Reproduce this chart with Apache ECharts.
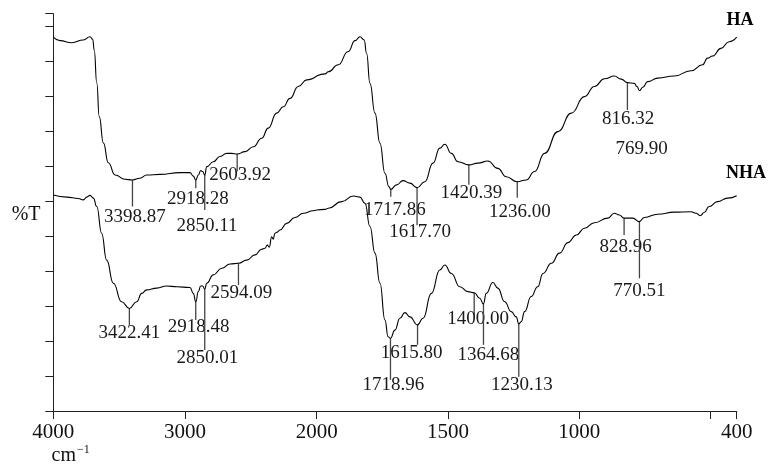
<!DOCTYPE html>
<html>
<head>
<meta charset="utf-8">
<script src="https://cdn.jsdelivr.net/npm/echarts@6/dist/echarts.min.js"></script>
<style>
html,body{margin:0;padding:0;background:#fff;}
#chart{width:769px;height:469px;}
</style>
</head>
<body>
<div id="chart"></div>
<script>
// ---- data (wavenumber cm-1, %T) ----
const haWn = [4000,3949,3860,3772,3721,3701,3689,3670,3651,3620,3582,3531,3456,3399,3342,3291,3190,3038,2962,2937,2918,2899,2881,2866,2850,2835,2785,2734,2683,2645,2604,2544,2481,2418,2368,2304,2254,2203,2140,2076,2000,1968,1956,1918,1880,1854,1835,1819,1810,1797,1778,1759,1740,1725,1718,1696,1671,1645,1618,1588,1557,1531,1512,1487,1462,1420,1386,1348,1310,1278,1236,1202,1170,1132,1081,1030,980,942,904,866,840,816,790,780,770,758,739,701,638,574,530,511,492,460,429,400];
const haT = [106.8,105.8,105.2,106.0,106.9,106.2,103.1,93.7,84.1,76.6,70.9,67.4,66.2,66.0,66.5,67.4,67.6,68.1,68.1,67.1,66.0,67.4,68.7,68.4,67.4,69.8,71.2,72.7,73.6,73.6,73.4,74.1,75.5,77.9,80.8,85.1,86.9,89.3,92.7,94.6,95.7,96.3,96.9,98.9,102.7,105.8,106.9,106.0,102.2,93.6,85.1,76.5,67.9,64.1,63.3,64.6,65.8,65.1,63.8,65.5,70.8,75.1,76.2,73.6,71.2,70.3,70.8,71.4,69.3,66.9,65.5,66.0,68.4,73.6,79.8,85.1,89.8,92.7,94.9,95.7,94.8,93.8,93.6,92.7,91.5,92.5,94.1,95.1,95.7,97.2,98.9,100.8,101.4,103.6,105.5,106.8];
const nhaWn = [4000,3898,3810,3772,3746,3721,3696,3670,3633,3595,3544,3481,3422,3367,3329,3291,3215,3139,3063,2962,2937,2918,2899,2881,2866,2850,2835,2785,2721,2658,2594,2532,2468,2418,2393,2375,2360,2342,2330,2317,2299,2279,2228,2165,2102,2026,2000,1968,1956,1905,1861,1835,1816,1797,1778,1759,1740,1728,1719,1702,1683,1664,1645,1616,1595,1563,1531,1512,1487,1455,1424,1400,1379,1365,1354,1329,1310,1284,1259,1240,1230,1221,1208,1183,1158,1138,1106,1075,1043,1011,980,942,891,866,847,829,796,771,752,701,638,574,555,539,524,505,473,435,400];
const nhaT = [61.7,61.1,60.7,60.3,61.1,61.6,60.8,58.4,50.8,43.1,36.5,31.2,29.3,31.2,33.6,34.6,35.1,35.7,35.5,35.3,33.6,31.2,34.1,35.7,35.7,34.8,36.5,38.9,40.8,42.0,42.2,43.1,44.6,46.2,46.5,47.4,46.8,49.8,49.1,50.8,51.1,51.7,53.6,55.3,56.5,57.2,57.4,57.6,57.9,59.8,61.4,61.1,59.3,52.7,45.1,36.5,26.0,21.2,20.8,23.1,26.5,28.1,26.9,24.6,26.5,33.6,40.3,41.7,39.3,35.5,34.1,33.8,32.2,30.6,33.6,36.7,35.1,31.2,28.4,26.9,24.9,25.5,28.4,32.7,35.5,39.3,42.2,45.1,48.1,50.3,52.2,53.8,55.1,56.5,56.0,55.1,55.1,54.1,55.3,56.2,56.8,56.9,56.5,55.8,56.7,58.4,59.8,60.8,61.5];

// peak labels
const haPeaks = [3398.87, 2918.28, 2850.11, 2603.92, 1717.86, 1617.70, 1420.39, 1236.00, 816.32, 769.90];
const nhaPeaks = [3422.41, 2918.48, 2850.01, 2594.09, 1718.96, 1615.80, 1400.00, 1364.68, 1230.13, 828.96, 770.51];

// x-axis ticks / labels
const leftTicks = [4000, 3000, 2000];
const rightTicks = [1500, 1000, 500, 400];
const rightLabels = [1500, 1000, 400];

// ---- annotation layout: [lineTop %T, lineBottom %T (null = no line), label %T, label dx px] ----
const haPeakLayout = [
  [66.0, 58.4, 55.5, 2.5],
  [66.0, 63.6, 60.5, 2],
  [67.4, 57.4, 52.9, 2.3],
  [73.4, 68.4, 67.4, 3],
  [63.3, 61.2, 57.4, 4],
  [63.8, 53.1, 51.2, 3],
  [70.3, 64.6, 62.4, 2.6],
  [65.5, 60.9, 56.9, 2.7],
  [93.8, 86.0, 83.3, 0.7],
  [null, null, 74.8, 2]
];
const nhaPeakLayout = [
  [29.3, 24.6, 22.2, 0],
  [31.2, 26.0, 24.1, 3],
  [34.8, 17.4, 15.1, 2.5],
  [42.2, 36.0, 33.6, 3],
  [20.8, 8.9, 7.4, 3],
  [24.6, 18.9, 16.5, -6],
  [33.8, 27.4, 26.2, 4],
  [30.6, 18.9, 16.0, 5],
  [24.9, 9.8, 7.4, 3],
  [55.1, 50.3, 46.9, 1.5],
  [54.1, 37.9, 34.4, 0]
];

const FONT = '"Liberation Serif", "Times New Roman", serif';
const zip = (a, b) => a.map((v, i) => [v, b[i]]);
const haPts = zip(haWn, haT);
const nhaPts = zip(nhaWn, nhaT);

function annots(peaks, layout) {
  return peaks.map((p, i) => ({ wn: p, top: layout[i][0], bottom: layout[i][1], ly: layout[i][2], dx: layout[i][3], text: p.toFixed(2) }));
}
const allAnn = annots(haPeaks, haPeakLayout).concat(annots(nhaPeaks, nhaPeakLayout));
const annLeft = allAnn.filter(a => a.wn >= 2000);
const annRight = allAnn.filter(a => a.wn < 2000);

function annSeries(list, idx) {
  return {
    type: 'custom', xAxisIndex: idx, yAxisIndex: idx, silent: true, clip: false,
    data: list.map(a => [a.wn, a.ly]),
    renderItem: function (params, api) {
      const a = list[params.dataIndex];
      const children = [];
      if (a.top !== null) {
        const p1 = api.coord([a.wn, a.top]);
        const p2 = api.coord([a.wn, a.bottom]);
        children.push({ type: 'line', shape: { x1: p1[0], y1: p1[1], x2: p2[0], y2: p2[1] }, style: { stroke: '#444', lineWidth: 1.3 } });
      }
      const p3 = api.coord([a.wn, a.ly]);
      children.push({ type: 'text', x: p3[0] + a.dx, y: p3[1], style: { text: a.text, fill: '#1a1a1a', fontSize: 19, fontFamily: FONT, align: 'center', verticalAlign: 'middle' } });
      return { type: 'group', children: children };
    }
  };
}

function lineSeries(pts, idx) {
  const d = idx === 0 ? pts.filter(p => p[0] >= 2000) : pts.filter(p => p[0] <= 2000);
  return { type: 'line', xAxisIndex: idx, yAxisIndex: idx, data: d, showSymbol: false, symbol: 'none', smooth: 0.5, smoothMonotone: 'x', lineStyle: { color: '#000', width: 1.1 }, silent: true };
}

const axisColor = '#222';
const plain = v => String(v);
const xBase = {
  type: 'value', inverse: true,
  axisLine: { show: true, onZero: false, lineStyle: { color: axisColor, width: 1 } },
  splitLine: { show: false },
  axisLabel: { fontFamily: FONT, fontSize: 21, color: '#111', margin: 11, formatter: plain }
};

const option = {
  animation: false,
  backgroundColor: '#fff',
  grid: [
    { left: 53.3, top: 13.7, width: 263.4, height: 397.3 },
    { left: 316.7, top: 13.7, width: 420, height: 397.3 }
  ],
  xAxis: [
    Object.assign({}, xBase, { gridIndex: 0, min: 2000, max: 4000,
      axisTick: { show: true, length: 8, lineStyle: { color: axisColor }, customValues: leftTicks },
      axisLabel: Object.assign({}, xBase.axisLabel, { customValues: leftTicks }) }),
    Object.assign({}, xBase, { gridIndex: 1, min: 400, max: 2000,
      axisTick: { show: true, length: 8, lineStyle: { color: axisColor }, customValues: rightTicks },
      axisLabel: Object.assign({}, xBase.axisLabel, { customValues: rightLabels }) })
  ],
  yAxis: [
    { type: 'value', gridIndex: 0, min: 0, max: 113.5, interval: 10,
      axisLine: { show: true, lineStyle: { color: axisColor, width: 1 } },
      axisTick: { show: true, length: 8, lineStyle: { color: axisColor } },
      axisLabel: { show: false }, splitLine: { show: false } },
    { type: 'value', gridIndex: 1, min: 0, max: 113.5, interval: 10, show: false, splitLine: { show: false } }
  ],
  graphic: [
    { type: 'text', left: 11.7, top: 205, style: { text: '%T', fontSize: 20, fontFamily: FONT, fill: '#111' } },
    { type: 'text', left: 726.5, top: 11, style: { text: 'HA', fontSize: 18, fontWeight: 'bold', fontFamily: FONT, fill: '#000' } },
    { type: 'text', left: 726, top: 164, style: { text: 'NHA', fontSize: 18, fontWeight: 'bold', fontFamily: FONT, fill: '#000' } },
    { type: 'text', left: 51.5, top: 444, style: { text: '{a|cm}{b|−1}', rich: { a: { fontSize: 20, fontFamily: FONT, fill: '#111', lineHeight: 24 }, b: { fontSize: 12, fontFamily: FONT, fill: '#111', verticalAlign: 'top', lineHeight: 24, padding: [0, 0, 10, 1] } } } }
  ],
  series: [
    lineSeries(haPts, 0), lineSeries(haPts, 1),
    lineSeries(nhaPts, 0), lineSeries(nhaPts, 1),
    annSeries(annLeft, 0), annSeries(annRight, 1)
  ]
};

const chart = echarts.init(document.getElementById('chart'), null, { renderer: 'canvas' });
chart.setOption(option);
</script>
</body>
</html>
